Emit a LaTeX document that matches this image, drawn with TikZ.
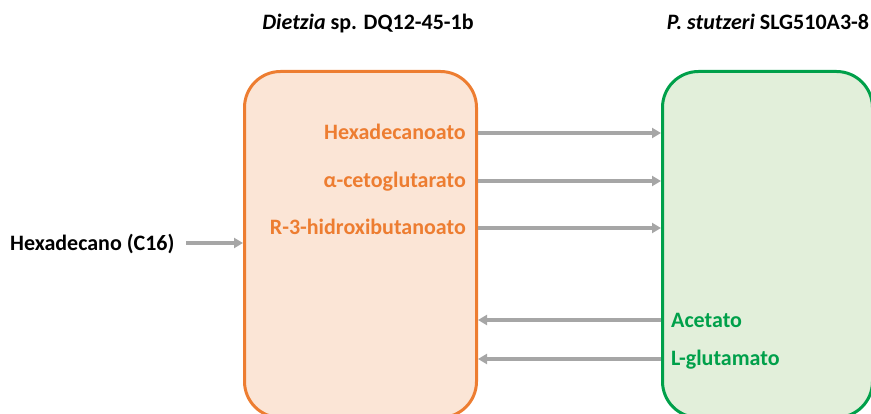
\documentclass[tikz,border=0pt]{standalone}
\usepackage{fontspec}
\setmainfont{Carlito}
\usetikzlibrary{arrows.meta}
\definecolor{orgline}{HTML}{ED7D31}
\definecolor{orgfill}{HTML}{FBE5D6}
\definecolor{grnline}{HTML}{00A04A}
\definecolor{grnfill}{HTML}{E2EFDA}
\definecolor{arrgray}{HTML}{A6A6A6}
\tikzset{
  box/.style={draw, line width=3pt, rounded corners=36pt, inner sep=0pt},
  flow/.style={draw=arrgray, line width=3.2pt, -{Triangle[length=9pt,width=10pt]}},
  lbl/.style={font=\fontsize{22}{26}\selectfont\bfseries, inner sep=0pt},
}
\begin{document}
\begin{tikzpicture}[x=1pt,y=-1pt]
\useasboundingbox (0,0) rectangle (871,414);
\node[box, draw=orgline, fill=orgfill, minimum width=232pt, minimum height=346pt, anchor=north west] (dz) at (243,70) {};
\node[box, draw=grnline, fill=grnfill, minimum width=210pt, minimum height=346pt, anchor=north west] (ps) at (661,70) {};
\node[lbl, anchor=base] (t1) at (368,30) {\itshape Dietzia\upshape\ sp. DQ12-45-1b};
\node[lbl, anchor=base] (t2) at (768,30) {\itshape P. stutzeri\upshape\ SLG510A3-8};
\node[lbl, anchor=base west] (hx) at (10,251) {Hexadecano (C16)};
\node[lbl, text=orgline, anchor=base east] (o1) at (466,140) {Hexadecanoato};
\node[lbl, text=orgline, anchor=base east] (o2) at (466,188) {α-cetoglutarato};
\node[lbl, text=orgline, anchor=base east] (o3) at (466,235) {R-3-hidroxibutanoato};
\node[lbl, text=grnline, anchor=base west] (g1) at (671,327) {Acetato};
\node[lbl, text=grnline, anchor=base west] (g2) at (671,366) {L-glutamato};
\coordinate (hxe) at (186,243);
\draw[flow] (hxe) -- (dz.west |- hxe);
\foreach \y in {133,181,228}{
  \draw[flow] (dz.east |- 0,\y) -- (ps.west |- 0,\y);
}
\foreach \y in {320,359}{
  \draw[flow] (ps.west |- 0,\y) -- (dz.east |- 0,\y);
}
\end{tikzpicture}
\end{document}
